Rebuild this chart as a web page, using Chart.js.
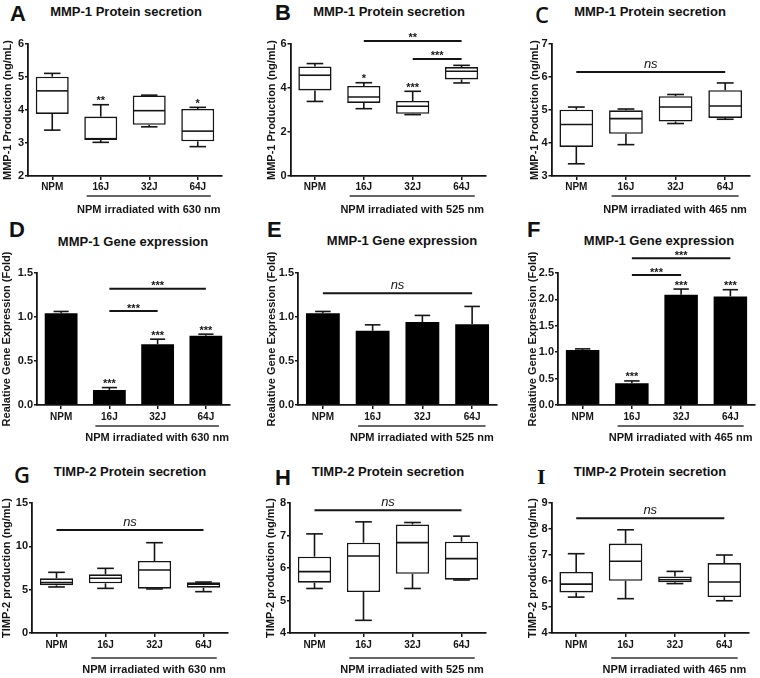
<!DOCTYPE html>
<html>
<head>
<meta charset="utf-8">
<script src="https://cdn.jsdelivr.net/npm/chart.js@4.4.1/dist/chart.umd.min.js"></script>
<style>
  body { margin: 0; background: #fff; }
  #wrap { position: relative; width: 760px; height: 678px; overflow: hidden;
          font-family: "Liberation Sans", Arial, sans-serif; color: #111; }
  canvas { position: absolute; }
  .letter { position: absolute; font-size: 22px; line-height: 22px; font-weight: bold; }
  .ttl { position: absolute; font-size: 13px; line-height: 13px; font-weight: bold;
         white-space: nowrap; transform: translateX(-50%); }
</style>
</head>
<body>
<div id="wrap">
  <div class="letter" style="left:10px;top:3px">A</div>
  <div class="letter" style="left:275px;top:2px">B</div>
  <div class="letter" style="left:535px;top:3px;font-family:'Open Sans';font-weight:600">C</div>
  <div class="letter" style="left:9px;top:219px">D</div>
  <div class="letter" style="left:267px;top:219px">E</div>
  <div class="letter" style="left:527px;top:219px">F</div>
  <div class="letter" style="left:14px;top:463px;font-family:'Open Sans';font-weight:600">G</div>
  <div class="letter" style="left:275px;top:467px">H</div>
  <div class="letter" style="left:537px;top:466px;font-family:'Liberation Serif';font-weight:bold">I</div>

  <div class="ttl" style="left:126px;top:5px">MMP-1 Protein secretion</div>
  <div class="ttl" style="left:389px;top:5px">MMP-1 Protein secretion</div>
  <div class="ttl" style="left:650px;top:5px">MMP-1 Protein secretion</div>
  <div class="ttl" style="left:133px;top:235px">MMP-1 Gene expression</div>
  <div class="ttl" style="left:402px;top:234px">MMP-1 Gene expression</div>
  <div class="ttl" style="left:659px;top:234px">MMP-1 Gene expression</div>
  <div class="ttl" style="left:130px;top:465px">TIMP-2 Protein secretion</div>
  <div class="ttl" style="left:388px;top:465px">TIMP-2 Protein secretion</div>
  <div class="ttl" style="left:650px;top:465px">TIMP-2 Protein secretion</div>
</div>

<script>
// ---------- data ----------
const groups = ["NPM", "16J", "32J", "64J"];

// A  MMP-1 protein, 630 nm (box: min, q1, median, q3, max)
const aMin = [3.39, 3.02, 3.49, 2.89];
const aQ1  = [3.88, 3.09, 3.55, 3.05];
const aMed = [4.58, 3.13, 3.98, 3.36];
const aQ3  = [5.01, 3.80, 4.44, 4.03];
const aMax = [5.11, 4.16, 4.45, 4.08];
const aStars = ["", "**", "", "*"];

// B  MMP-1 protein, 525 nm
const bMin = [3.39, 3.06, 2.79, 4.23];
const bQ1  = [3.89, 3.32, 2.83, 4.39];
const bMed = [4.58, 3.59, 3.17, 4.76];
const bQ3  = [4.98, 4.09, 3.41, 4.95];
const bMax = [5.11, 4.24, 3.85, 5.03];
const bStars = ["", "*", "***", ""];

// C  MMP-1 protein, 465 nm
const cMin = [3.37, 3.95, 4.59, 4.72];
const cQ1  = [3.88, 4.28, 4.65, 4.76];
const cMed = [4.56, 4.74, 5.09, 5.12];
const cQ3  = [5.01, 4.99, 5.42, 5.60];
const cMax = [5.09, 5.03, 5.47, 5.82];

// D-F  MMP-1 gene expression (mean, error)
const dMean = [1.044, 0.171, 0.690, 0.786];
const dErr  = [0.019, 0.027, 0.058, 0.019];
const dStars = ["", "***", "***", "***"];
const eMean = [1.044, 0.843, 0.942, 0.919];
const eErr  = [0.019, 0.068, 0.076, 0.201];
const fMean = [1.044, 0.411, 2.089, 2.057];
const fErr  = [0.019, 0.045, 0.107, 0.127];
const fStars = ["", "***", "***", "***"];

// G-I  TIMP-2 protein
const gMin = [5.31, 5.15, 5.08, 4.77];
const gQ1  = [5.50, 5.73, 5.12, 5.23];
const gMed = [5.81, 6.31, 7.27, 5.62];
const gQ3  = [6.31, 6.77, 8.31, 5.85];
const gMax = [7.00, 7.46, 10.42, 5.88];

const hMin = [5.37, 4.39, 5.37, 5.63];
const hQ1  = [5.55, 5.26, 5.82, 5.64];
const hMed = [5.89, 6.37, 6.78, 6.29];
const hQ3  = [6.35, 6.78, 7.34, 6.81];
const hMax = [7.05, 7.42, 7.40, 6.98];

const iMin = [5.38, 5.32, 5.90, 5.24];
const iQ1  = [5.56, 6.01, 5.95, 5.38];
const iMed = [5.88, 6.76, 6.05, 5.96];
const iQ3  = [6.35, 7.44, 6.17, 6.69];
const iMax = [7.05, 7.97, 6.37, 7.00];

// significance bars: [from, to, value, label]
const bBrackets = [[1, 3, 6.14, "**"], [2, 3, 5.32, "***"]];
const cBrackets = [[0, 3, 6.15, "ns"]];
const dBrackets = [[1, 3, 1.32, "***"], [1, 2, 1.068, "***"]];
const eBrackets = [[0, 3, 1.27, "ns"]];
const fBrackets = [[1, 3, 2.78, "***"], [1, 2, 2.46, "***"]];
const gBrackets = [[0, 3, 11.88, "ns"]];
const hBrackets = [[0, 3, 7.78, "ns"]];
const iBrackets = [[0, 3, 8.41, "ns"]];

// ---------- drawing ----------
const ink = "#151515";
const FONT = "'Liberation Sans', Arial, sans-serif";

// whiskers, medians, error bars, stars, brackets, group underline
const decor = {
  id: "decor",
  afterDatasetsDraw(chart, args, o) {
    const ctx = chart.ctx;
    const xs = chart.scales.x, ys = chart.scales.y;
    const area = chart.chartArea;
    const els = chart.getDatasetMeta(0).data;
    ctx.save();
    ctx.strokeStyle = ink;
    ctx.fillStyle = ink;
    ctx.lineWidth = 1.6;

    const line = (x1, y1, x2, y2) => {
      ctx.beginPath(); ctx.moveTo(x1, y1); ctx.lineTo(x2, y2); ctx.stroke();
    };

    els.forEach((el, i) => {
      const cx = el.x, w = el.width;
      let top;
      if (o.box) {
        const b = o.box;
        const yMax = ys.getPixelForValue(b.max[i]);
        const yMin = ys.getPixelForValue(b.min[i]);
        const yQ1 = ys.getPixelForValue(b.q1[i]);
        const yQ3 = ys.getPixelForValue(b.q3[i]);
        const yMed = ys.getPixelForValue(b.med[i]);
        line(cx, yQ3, cx, yMax);
        line(cx - w / 4, yMax, cx + w / 4, yMax);
        line(cx, yQ1, cx, yMin);
        line(cx - w / 4, yMin, cx + w / 4, yMin);
        line(cx - w / 2 + 0.8, yMed, cx + w / 2 - 0.8, yMed);
        top = yMax;
      } else {
        const yTop = ys.getPixelForValue(o.mean[i] + o.err[i]);
        line(cx, ys.getPixelForValue(o.mean[i]), cx, yTop);
        line(cx - w * 0.23, yTop, cx + w * 0.23, yTop);
        top = yTop;
      }
      if (o.stars && o.stars[i]) {
        ctx.font = "bold 11px " + FONT;
        ctx.textAlign = "center";
        ctx.textBaseline = "alphabetic";
        ctx.fillText(o.stars[i], cx, top - 0.5);
      }
    });

    (o.brackets || []).forEach(([a, b, v, label]) => {
      const yy = ys.getPixelForValue(v);
      ctx.lineWidth = 2;
      line(xs.getPixelForValue(a), yy, xs.getPixelForValue(b), yy);
      ctx.textAlign = "center";
      ctx.textBaseline = "alphabetic";
      const mid = (xs.getPixelForValue(a) + xs.getPixelForValue(b)) / 2;
      if (label === "ns") {
        ctx.font = "italic 13px " + FONT;
        ctx.fillText(label, mid, yy - 4.5);
      } else {
        ctx.font = "bold 11px " + FONT;
        ctx.fillText(label, mid, yy + 0.5);
      }
    });

    // "NPM irradiated with ..." group line
    const step = xs.getPixelForValue(1) - xs.getPixelForValue(0);
    const x1 = xs.getPixelForValue(1) - step * 0.29;
    const x2 = xs.getPixelForValue(3) + step * 0.27;
    const uy = area.bottom + o.ulGap;
    ctx.lineWidth = 1.5;
    ctx.strokeStyle = "#333";
    line(x1, uy, x2, uy);
    ctx.font = "bold 11px " + FONT;
    ctx.textAlign = "center";
    ctx.textBaseline = "middle";
    ctx.fillText(o.sub, (x1 + x2) / 2, area.bottom + o.subGap);
    ctx.restore();
  }
};

function makePanel(p) {
  const cv = document.createElement("canvas");
  cv.width = p.w; cv.height = p.h;
  cv.style.left = p.x + "px"; cv.style.top = p.y + "px";
  document.getElementById("wrap").appendChild(cv);

  const isBox = !!p.box;
  const dataset = isBox
    ? { data: groups.map((g, i) => [p.box.q1[i], p.box.q3[i]]),
        backgroundColor: "#fff", borderColor: ink, borderWidth: 1.6, borderSkipped: false }
    : { data: p.mean, backgroundColor: "#000", borderWidth: 0 };
  dataset.categoryPercentage = 1;
  dataset.barPercentage = 0.68;

  const xFont = { family: FONT, weight: "bold", size: 10 };
  const yFont = { family: FONT, weight: "bold", size: 11 };

  new Chart(cv, {
    type: "bar",
    data: { labels: groups, datasets: [dataset] },
    plugins: [decor],
    options: {
      responsive: false,
      animation: false,
      events: [],
      layout: { padding: p.pad },
      plugins: {
        legend: { display: false },
        tooltip: { enabled: false },
        decor: {
          box: p.box, mean: p.mean, err: p.err, stars: p.stars,
          brackets: p.brackets, sub: p.sub, ulGap: p.ulGap, subGap: p.subGap
        }
      },
      scales: {
        x: {
          grid: { display: true, drawOnChartArea: false, offset: false,
                  tickLength: 4, color: ink, lineWidth: 1.5 },
          border: { display: true, color: ink, width: 1.8 },
          ticks: { font: xFont, color: ink, padding: p.xPad, autoSkip: false, maxRotation: 0 },
          afterFit(s) { s.height = 20; }
        },
        y: {
          min: p.yMin, max: p.yMax,
          grid: { display: true, drawOnChartArea: false, tickLength: 3, color: ink, lineWidth: 1.5 },
          border: { display: true, color: ink, width: 1.8 },
          ticks: { stepSize: p.yStep, font: yFont, color: ink, padding: 1,
                   callback: v => p.dec ? v.toFixed(1) : String(v) },
          title: { display: true, text: p.yTitle, color: ink, padding: 0,
                   font: { family: FONT, weight: "bold", size: 11 } },
          afterFit(s) { s.width = p.yW; }
        }
      }
    }
  });
}

const protTitle = "MMP-1 Production (ng/mL)";
const geneTitle = "Realative Gene Expression (Fold)";
const timpTitle = "TIMP-2 production (ng/mL)";
const sub630 = "NPM irradiated with 630 nm";
const sub525 = "NPM irradiated with 525 nm";
const sub465 = "NPM irradiated with 465 nm";

// row 1
makePanel({ x: 0, y: 0, w: 250, h: 225, pad: { left: 1.4, right: 28, top: 44, bottom: 29 }, yW: 26.6,
  yMin: 2, yMax: 6, yStep: 1, yTitle: protTitle, xPad: 1, ulGap: 20, subGap: 34, sub: sub630,
  box: { min: aMin, q1: aQ1, med: aMed, q3: aQ3, max: aMax }, stars: aStars });
makePanel({ x: 250, y: 0, w: 255, h: 225, pad: { left: 15.4, right: 19, top: 44, bottom: 29 }, yW: 25.1,
  yMin: 0, yMax: 6, yStep: 2, yTitle: protTitle, xPad: 1, ulGap: 20, subGap: 34, sub: sub525,
  box: { min: bMin, q1: bQ1, med: bMed, q3: bQ3, max: bMax }, stars: bStars, brackets: bBrackets });
makePanel({ x: 505, y: 0, w: 255, h: 225, pad: { left: 23.4, right: 10, top: 44, bottom: 29 }, yW: 23.1,
  yMin: 3, yMax: 7, yStep: 1, yTitle: protTitle, xPad: 1, ulGap: 20, subGap: 34, sub: sub465,
  box: { min: cMin, q1: cQ1, med: cMed, q3: cQ3, max: cMax }, brackets: cBrackets });

// row 2
makePanel({ x: 0, y: 225, w: 250, h: 225, pad: { left: 0.4, right: 20, top: 48, bottom: 25 }, yW: 36.6,
  yMin: 0, yMax: 1.5, yStep: 0.5, dec: true, yTitle: geneTitle, xPad: 2.5, ulGap: 21, subGap: 33, sub: sub630,
  mean: dMean, err: dErr, stars: dStars, brackets: dBrackets });
makePanel({ x: 250, y: 225, w: 255, h: 225, pad: { left: 15.4, right: 8, top: 48, bottom: 25 }, yW: 32.6,
  yMin: 0, yMax: 1.5, yStep: 0.5, dec: true, yTitle: geneTitle, xPad: 2.5, ulGap: 21, subGap: 33, sub: sub525,
  mean: eMean, err: eErr, brackets: eBrackets });
makePanel({ x: 505, y: 225, w: 255, h: 225, pad: { left: 21.4, right: 5, top: 48, bottom: 25 }, yW: 31.6,
  yMin: 0, yMax: 2.5, yStep: 0.5, dec: true, yTitle: geneTitle, xPad: 2.5, ulGap: 21, subGap: 33, sub: sub465,
  mean: fMean, err: fErr, stars: fStars, brackets: fBrackets });

// row 3
makePanel({ x: 0, y: 450, w: 250, h: 228, pad: { left: 0.4, right: 22, top: 53, bottom: 25 }, yW: 31.6,
  yMin: 0, yMax: 15, yStep: 5, yTitle: timpTitle, xPad: 2.5, ulGap: 25, subGap: 37, sub: sub630,
  box: { min: gMin, q1: gQ1, med: gMed, q3: gQ3, max: gMax }, brackets: gBrackets });
makePanel({ x: 250, y: 450, w: 255, h: 228, pad: { left: 14.4, right: 19, top: 53, bottom: 25 }, yW: 25.6,
  yMin: 4, yMax: 8, yStep: 1, yTitle: timpTitle, xPad: 2.5, ulGap: 25, subGap: 37, sub: sub525,
  box: { min: hMin, q1: hQ1, med: hMed, q3: hQ3, max: hMax }, brackets: hBrackets });
makePanel({ x: 505, y: 450, w: 255, h: 228, pad: { left: 21.4, right: 11, top: 53, bottom: 25 }, yW: 25.1,
  yMin: 4, yMax: 9, yStep: 1, yTitle: timpTitle, xPad: 2.5, ulGap: 25, subGap: 37, sub: sub465,
  box: { min: iMin, q1: iQ1, med: iMed, q3: iQ3, max: iMax }, brackets: iBrackets });
</script>
</body>
</html>
